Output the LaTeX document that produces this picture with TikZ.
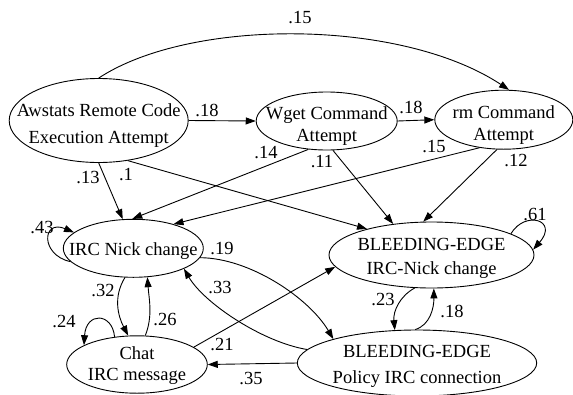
\documentclass[tikz,border=0pt]{standalone}
\usepackage{fontspec}
\setmainfont{Liberation Serif}
\usetikzlibrary{arrows.meta,shapes.geometric}

\begin{document}
\begin{tikzpicture}[x=1pt,y=-1pt,
  state/.style={ellipse,draw,line width=0.9pt,inner sep=0pt},
  txt/.style={align=center,font=\fontsize{18.5}{24}\selectfont,inner sep=0pt,yshift=-3pt},
  wt/.style={font=\fontsize{18.5}{22}\selectfont,inner sep=0pt},
  arrow/.style={-{Triangle[length=10pt,width=7pt]},line width=0.9pt}
]
\useasboundingbox (0,0) rectangle (573,394);

% alert states
\node[state,minimum width=179pt,minimum height=84pt] (aws) at (98.7,120.5) {};
\node[txt,yshift=-2pt] (aws-t) at (aws) {Awstats Remote Code\\[3pt]Execution Attempt};
\node[state,minimum width=141pt,minimum height=58pt] (wget) at (326.7,121) {};
\node[txt,yshift=-2pt] (wget-t) at (wget) {Wget Command\\[-2pt]Attempt};
\node[state,minimum width=138pt,minimum height=59pt] (rm) at (503.8,119.7) {};
\node[txt,yshift=-2pt] (rm-t) at (rm) {rm Command\\[-2pt]Attempt};
\node[state,minimum width=140pt,minimum height=58pt] (nick) at (133.3,248.3) {};
\node[txt] (nick-t) at (nick) {IRC Nick change};
\node[state,minimum width=140.6pt,minimum height=57.4pt] (chat) at (137,364.5) {};
\node[txt,yshift=2pt] (chat-t) at (chat) {Chat\\[-3pt]IRC message};
\node[state,minimum width=205pt,minimum height=66pt] (benick) at (431.5,255) {};
\node[txt] (benick-t) at (benick) {BLEEDING-EDGE\\IRC-Nick change};
\node[state,minimum width=239.4pt,minimum height=66pt] (policy) at (417,363) {};
\node[txt] (policy-t) at (policy) {BLEEDING-EDGE\\[2pt]Policy IRC connection};

% transitions
\draw[arrow] (aws.east) -- (wget.west);
\draw[arrow] (wget.east) -- (rm.west);
\draw[arrow] (aws.north) .. controls (190,18) and (400,18) .. (rm.80);
\draw[arrow] (aws.south) -- (nick.110);
\draw[arrow] (aws.-54) -- (benick.158);
\draw[arrow] (wget.-123) -- (nick.92);
\draw[arrow] (wget.-78) -- (benick.141);
\draw[arrow] (rm.-131) -- (nick.31);
\draw[arrow] (rm.-103) -- (benick.104);
\draw[arrow] (nick.-168) .. controls (40,255) and (42,219) .. (nick.165);
\draw[arrow] (nick.-8) .. controls (250,258) and (309,298) .. (policy.164);
\draw[arrow] (policy.173) .. controls (262,342) and (204,303) .. (nick.-22);
\draw[arrow] (nick.-106) .. controls (113,297) and (118,316) .. (chat.107);
\draw[arrow] (chat.74) .. controls (153,316) and (149,299) .. (nick.-64);
\draw[arrow] (chat.129) .. controls (112,312) and (86,312) .. (chat.160);
\draw[arrow] (chat.17) -- (benick.-173);
\draw[arrow] (policy.west) -- (chat.east);
\draw[arrow] (benick.15) .. controls (525,210) and (559,220) .. (benick.3);
\draw[arrow] (benick.-117) .. controls (400,296) and (393,311) .. (policy.124);
\draw[arrow] (policy.93) .. controls (430,325) and (434,308) .. (benick.-86);

% transition weights
\node[wt] (w-aws-rm) at (300,18) {.15};
\node[wt] (w-aws-wget) at (207,110) {.18};
\node[wt] (w-wget-rm) at (411,107) {.18};
\node[wt] (w-aws-nick) at (88,178) {.13};
\node[wt] (w-aws-be) at (126,175) {.1};
\node[wt] (w-wget-nick) at (266,153) {.14};
\node[wt] (w-wget-be) at (322,162) {.11};
\node[wt] (w-rm-nick) at (434,147) {.15};
\node[wt] (w-rm-be) at (516,161) {.12};
\node[wt] (w-nick-nick) at (42,228) {.43};
\node[wt] (w-nick-pol) at (222,249) {.19};
\node[wt] (w-pol-nick) at (220,288) {.33};
\node[wt] (w-nick-chat) at (103,291) {.32};
\node[wt] (w-chat-nick) at (165,320) {.26};
\node[wt] (w-chat-chat) at (64,322) {.24};
\node[wt] (w-chat-be) at (222,345) {.21};
\node[wt] (w-pol-chat) at (251,378) {.35};
\node[wt] (w-be-be) at (535,215) {.61};
\node[wt] (w-be-pol) at (383,300) {.23};
\node[wt] (w-pol-be) at (452,311) {.18};
\end{tikzpicture}
\end{document}
